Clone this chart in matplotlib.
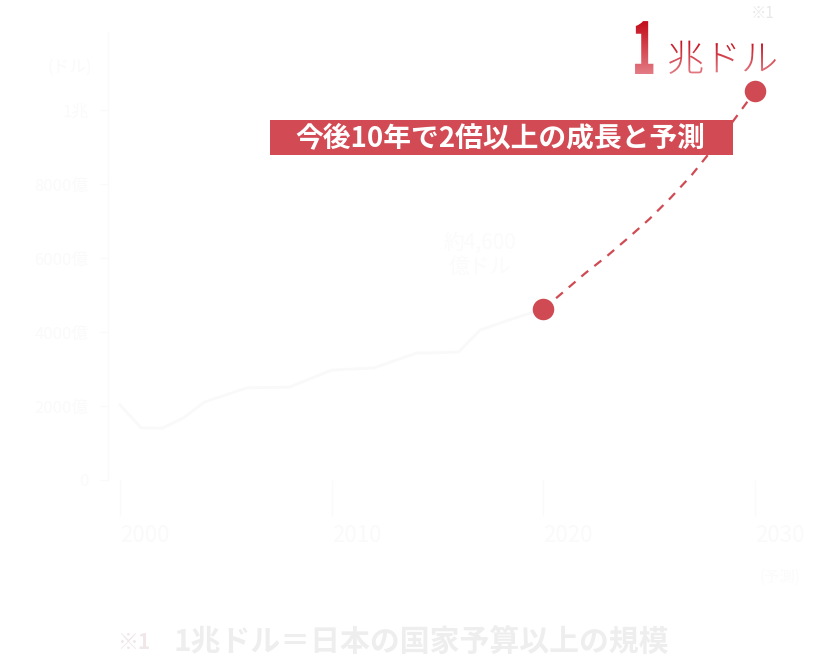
import numpy as np
import matplotlib
matplotlib.use('Agg')
import matplotlib.pyplot as plt
from matplotlib.textpath import TextPath
from matplotlib.font_manager import FontProperties
from matplotlib.patches import PathPatch, Rectangle
from matplotlib.colors import LinearSegmentedColormap
from matplotlib.transforms import Affine2D

plt.rcParams['font.family'] = ['Noto Sans CJK JP', 'DejaVu Sans']

# 実績（うすく描かれている線）
hist_years = [2000, 2001, 2002, 2003, 2004, 2005, 2006, 2007, 2008, 2009, 2010,
              2011, 2012, 2013, 2014, 2015, 2016, 2017, 2018, 2019, 2020]
hist_vals = [2030, 1410, 1400, 1680, 2110, 2300, 2490, 2500, 2510, 2740, 2970,
             3000, 3030, 3230, 3430, 3440, 3460, 4050, 4250, 4440, 4620]

# 予測（赤い破線）
fc_years = [2020, 2021, 2022, 2023, 2024, 2025, 2026, 2027, 2028, 2029, 2030]
fc_vals = [4620, 5110, 5600, 6050, 6540, 7050, 7620, 8240, 8950, 9730, 10510]

xticks = [2000, 2010, 2020, 2030]
xlabels = ['2000', '2010', '2020', '2030']
yticks = [0, 2000, 4000, 6000, 8000, 10000]
ylabels = ['0', '2000億', '4000億', '6000億', '8000億', '1兆']

RED = '#d04a53'
FAINT = '#fafafa'

W, H = 816, 658
fig = plt.figure(figsize=(8.16, 6.58), dpi=100)
fig.patch.set_facecolor('white')

# グラフ本体
ax = fig.add_axes([108 / W, (H - 480) / H, 692 / W, 448 / H])
ax.set_facecolor('none')
ax.set_xlim(1999.433, 2032.12)
ax.set_ylim(0, 12108)
for s in ['top', 'right', 'bottom']:
    ax.spines[s].set_visible(False)
ax.spines['left'].set_color(FAINT)
ax.spines['left'].set_linewidth(1)

ax.plot(hist_years, hist_vals, color='#f9f9f9', lw=2, zorder=2)
ax.plot(fc_years, fc_vals, color=RED, lw=1.6, dashes=(4, 3.5), zorder=3)
ax.plot([fc_years[0], fc_years[-1]], [fc_vals[0], fc_vals[-1]], 'o',
        color=RED, ms=15.5, mec='none', zorder=4)

ax.set_xticks(xticks)
ax.set_xticklabels(xlabels, ha='left', fontsize=16, color=FAINT)
ax.tick_params(axis='x', length=26, width=1, color=FAINT, pad=6)
ax.set_yticks(yticks)
ax.set_yticklabels(ylabels, fontsize=12, color=FAINT)
ax.tick_params(axis='y', length=6, width=1, color=FAINT, pad=8)

# 注記用の重ね合わせ（ピクセル座標）
ov = fig.add_axes([0, 0, 1, 1])
ov.set_facecolor('none')
ov.axis('off')


def py(y):
    return H - y


ov.text(92, py(67), '(ドル)', ha='right', va='center', fontsize=12, color=FAINT)
ov.text(480, py(255), '約4,600\n億ドル', ha='center', va='center', fontsize=15,
        color='#fbfbfb', linespacing=1.1)
ov.text(780, py(577), '(予測)', ha='center', va='center', fontsize=11, color='#fbfbfb')

# 帯ラベル
ov.add_patch(Rectangle((270, py(155)), 463, 35, color='#d24b54', lw=0))
ov.text(500, py(138), '今後10年で2倍以上の成長と予測', ha='center', va='center',
        fontsize=20, fontweight='bold', color='white')

# グラデーション文字「1兆ドル」
grad = LinearSegmentedColormap.from_list('g', ['#c30d1b', '#e37b84'])


def grad_text(s, x, y, size, weight, sx=1.0):
    tp = TextPath((0, 0), s, size=size,
                  prop=FontProperties(family='Noto Sans CJK JP', weight=weight))
    path = Affine2D().scale(sx, 1).translate(x, y).transform_path(tp)
    patch = PathPatch(path, facecolor='none', edgecolor='none')
    ov.add_patch(patch)
    b = path.get_extents()
    im = ov.imshow(np.linspace(0, 1, 100).reshape(-1, 1), cmap=grad, aspect='auto',
                   extent=[b.x0, b.x1, b.y0, b.y1], origin='upper', zorder=5)
    im.set_clip_path(patch)


grad_text('1', 632, py(74), 71, 'black', sx=0.55)
grad_text('兆ドル', 667, py(71), 37, 'light')
ov.set_xlim(0, W)
ov.set_ylim(0, H)

ov.text(775, py(13), '※1', ha='right', va='center', fontsize=11, color='#e8e8e8')

# 脚注
ov.text(117, py(642), '※1', ha='left', va='center', fontsize=15, fontweight='bold',
        color='#f0e8e8')
ov.text(174, py(642), '1兆ドル＝日本の国家予算以上の規模', ha='left', va='center',
        fontsize=21.5, fontweight='bold', color='#eeeeee')

fig.savefig('out.png', dpi=100, facecolor='white')
